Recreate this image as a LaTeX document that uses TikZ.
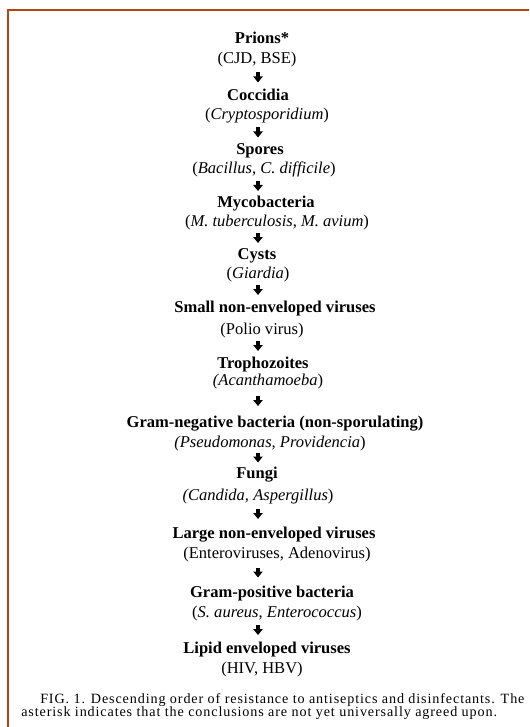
\documentclass[tikz,border=0pt]{standalone}
\usepackage{fontspec}
\setmainfont{Liberation Serif}
\usetikzlibrary{arrows.meta,calc}

\definecolor{framebrown}{RGB}{178,68,22}
\tikzset{
  group/.style={font=\fontsize{12.4}{14}\selectfont\bfseries, inner sep=0pt, anchor=base},
  example/.style={font=\fontsize{12.4}{14}\selectfont, inner sep=0pt, anchor=base},
  caption/.style={font=\fontsize{10.6}{12}\selectfont\addfontfeature{LetterSpace=6.2}, inner sep=0pt, anchor=base west},
  flowarr/.style={-{Triangle[width=7pt,length=4.5pt]}, line width=2.3pt},
}

\begin{document}
\begin{tikzpicture}[x=0.75pt,y=-0.75pt]
\useasboundingbox (0,0) rectangle (529,727);
\clip (0,0) rectangle (529,727);
\draw[framebrown, line width=1.5pt] (7.5,727) -- (7.5,10.5) -- (529,10.5);
\coordinate (ax) at (258,0);

\node[group] (t1) at (262,44) {Prions*};
\node[example] (s1) at (257,64) {(CJD, BSE)};
\node[group] (t2) at (258,101) {Coccidia};
\node[example] (s2) at (267,120) {(\textit{Cryptosporidium})};
\node[group] (t3) at (260,155) {Spores};
\node[example] (s3) at (264,174) {(\textit{Bacillus}, \textit{C. difficile})};
\node[group] (t4) at (266,208) {Mycobacteria};
\node[example] (s4) at (277,227) {(\textit{M. tuberculosis}, \textit{M. avium})};
\node[group] (t5) at (257,259) {Cysts};
\node[example] (s5) at (258,278) {(\textit{Giardia})};
\node[group] (t6) at (275,312) {Small non-enveloped viruses};
\node[example] (s6) at (262,334) {(Polio virus)};
\node[group] (t7) at (263,368) {Trophozoites};
\node[example] (s7) at (268,385) {\textit{(Acanthamoeba})};
\node[group] (t8) at (275,427) {Gram-negative bacteria (non-sporulating)};
\node[example] (s8) at (270,447) {\textit{(Pseudomonas, Providencia})};
\node[group] (t9) at (257,478) {Fungi};
\node[example] (s9) at (258,500) {\textit{(Candida, Aspergillus})};
\node[group] (t10) at (274,538) {Large non-enveloped viruses};
\node[example] (s10) at (277,558) {(Enteroviruses, Adenovirus)};
\node[group] (t11) at (272,597) {Gram-positive bacteria};
\node[example] (s11) at (277,617) {(\textit{S. aureus}, \textit{Enterococcus})};
\node[group] (t12) at (267,653) {Lipid enveloped viruses};
\node[example] (s12) at (262,673) {(HIV, HBV)};

% arrows between the groups
\foreach \a/\b in {s1/t2,s2/t3,s3/t4,s4/t5,s5/t6,s6/t7,s7/t8,s8/t9,s9/t10,s10/t11,s11/t12}{
  \path (\a.base -| ax) -- coordinate[midway] (mid) (\b.base -| ax);
  \draw[flowarr] ([yshift=7.5pt]mid) -- (mid);
}

\node[caption] (cap1) at (40,703) {FIG. 1. Descending order of resistance to antiseptics and disinfectants. The};
\node[caption] (cap2) at (21,716) {asterisk indicates that the conclusions are not yet universally agreed upon.};
\end{tikzpicture}
\end{document}
